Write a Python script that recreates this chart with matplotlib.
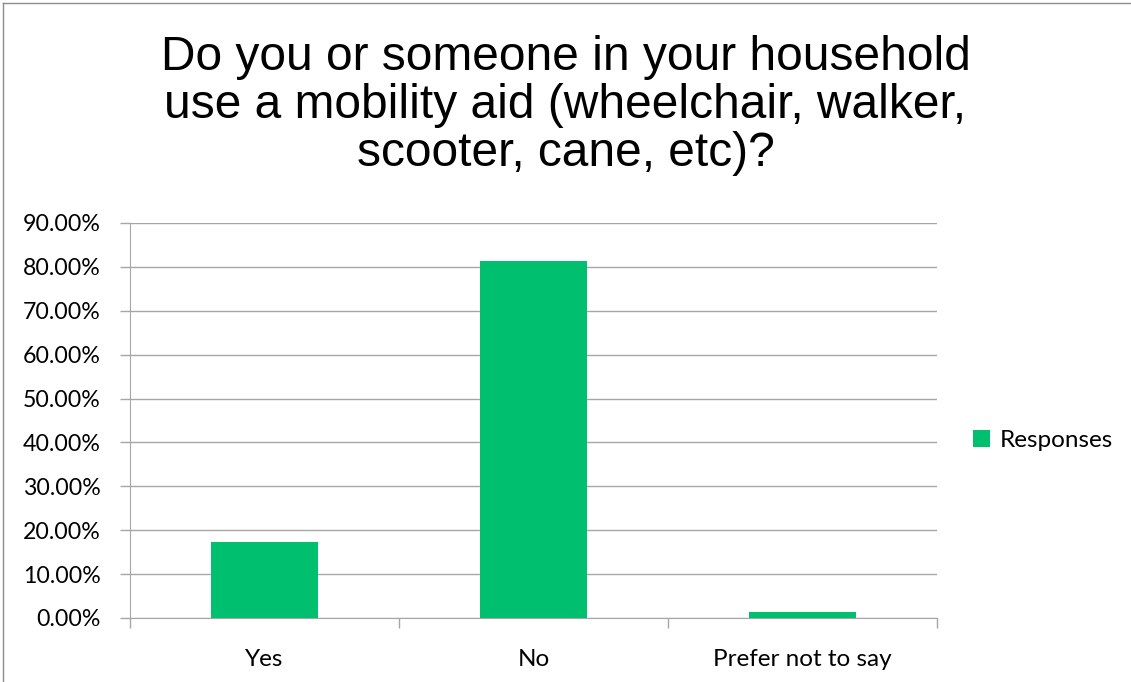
import matplotlib.pyplot as plt
import numpy as np
from matplotlib.ticker import FuncFormatter, FixedLocator

categories = ['Yes', 'No', 'Prefer not to say']
responses = [0.1727, 0.8136, 0.0136]

bar_color = '#00bf6f'
grid_color = '#a6a6a6'

fig = plt.figure(figsize=(11.31, 6.82), dpi=100)
ax = fig.add_axes([130 / 1131, 64 / 682, 807 / 1131, 395 / 682])

x = np.arange(len(categories))
ax.bar(x, responses, width=0.4, color=bar_color, label='Responses', zorder=3)

ax.set_xlim(-0.5, len(categories) - 0.5)
ax.set_ylim(0, 0.9)
ax.set_yticks(np.arange(0, 0.91, 0.1))
ax.yaxis.set_major_formatter(FuncFormatter(lambda v, p: f'{v * 100:.2f}%'))
ax.grid(axis='y', color=grid_color, linewidth=1, zorder=0)

# category labels centred, tick marks at category boundaries
ax.set_xticks(x)
ax.set_xticklabels(categories)
ax.tick_params(axis='x', which='major', length=0, pad=22)
ax.xaxis.set_minor_locator(FixedLocator(np.arange(-0.5, len(categories), 1)))
ax.tick_params(axis='x', which='minor', length=7, color=grid_color, width=1)
ax.tick_params(axis='y', length=7, color=grid_color, width=1, pad=14)

for lab in ax.get_xticklabels():
    lab.set_fontfamily('Lato')
    lab.set_fontsize(17.5)
for lab in ax.get_yticklabels():
    lab.set_fontfamily('Lato')
    lab.set_fontsize(16.7)

for s in ['top', 'right']:
    ax.spines[s].set_visible(False)
for s in ['left', 'bottom']:
    ax.spines[s].set_color(grid_color)

fig.text(0.5, 0.948, 'Do you or someone in your household\nuse a mobility aid (wheelchair, walker,\nscooter, cane, etc)?',
         ha='center', va='top', fontsize=34.5, family='Liberation Sans', linespacing=1.08)

leg = ax.legend(loc='center left', bbox_to_anchor=(1.018, 0.45), frameon=False,
                prop={'family': 'Lato', 'size': 17.5}, handlelength=0.7, handleheight=0.7,
                handletextpad=0.4)

# outer chart border (top and left visible)
fig.add_artist(plt.Line2D([3 / 1131, 1], [1 - 3 / 682, 1 - 3 / 682], color='#8c8c8c', lw=1))
fig.add_artist(plt.Line2D([3 / 1131, 3 / 1131], [0, 1 - 3 / 682], color='#8c8c8c', lw=1))

plt.savefig('out.png', dpi=100)
